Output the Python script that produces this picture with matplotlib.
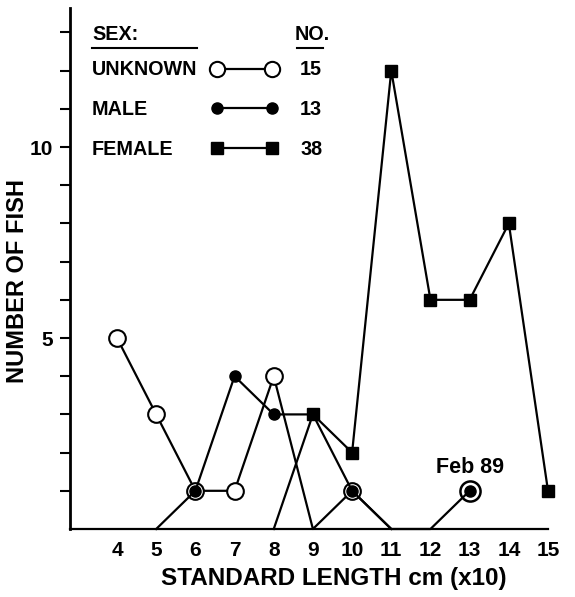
import matplotlib
matplotlib.use("Agg")
import matplotlib.pyplot as plt
from matplotlib.lines import Line2D

plt.rcParams['font.family'] = ['Liberation Sans', 'DejaVu Sans']
plt.rcParams['font.weight'] = 'bold'

# ---- data ----
x_unknown = [4, 5, 6, 7, 8, 9, 10, 11]
n_unknown = [5, 3, 1, 1, 4, 0, 1, 0]
x_male = [5, 6, 7, 8, 9, 10, 11, 12, 13]
n_male = [0, 1, 4, 3, 3, 1, 0, 0, 1]
x_female = [8, 9, 10, 11, 12, 13, 14, 15]
n_female = [0, 3, 2, 12, 6, 6, 8, 1]
x_ticks = [4, 5, 6, 7, 8, 9, 10, 11, 12, 13, 14, 15]
y_ticks = list(range(1, 14))
y_labelled = [5, 10]
legend_names = ["UNKNOWN", "MALE", "FEMALE"]
legend_totals = ["15", "13", "38"]
note_x = 13
note_text = "Feb 89"

W, H = 575, 597
fig = plt.figure(figsize=(W / 100, H / 100), dpi=100)


def fx(px):
    return px / W


def fy(py):
    return 1 - py / H


ax = fig.add_axes([fx(70), fy(529), (548 - 70) / W, (529 - 8) / H])
ax.set_xlim(2.8, 15)
ax.set_ylim(0, 13.64)

lw = 1.6


def nz(vals):
    return [i for i, v in enumerate(vals) if v > 0]


ax.plot(x_female, n_female, color='black', lw=lw, marker='s', ms=8.5,
        markevery=nz(n_female), clip_on=False, zorder=3)
ax.plot(x_unknown, n_unknown, color='black', lw=lw, marker='o', ms=12,
        mfc='white', mec='black', mew=1.5, markevery=nz(n_unknown),
        clip_on=False, zorder=4)
ax.plot(x_male, n_male, color='black', lw=lw, marker='o', ms=8,
        markevery=nz(n_male), clip_on=False, zorder=5)

# highlighted point
ny = n_male[x_male.index(note_x)]
ax.plot([note_x], [ny], marker='o', ms=14.5, mfc='none', mec='black', mew=1.8,
        ls='none', zorder=6, clip_on=False)
ax.annotate(note_text, xy=(note_x, ny), xytext=(0, 12.5), textcoords='offset points',
            ha='center', va='baseline', fontsize=15.5, fontweight='bold')

# axes styling
for s in ['top', 'right']:
    ax.spines[s].set_visible(False)
ax.spines['left'].set_linewidth(2.0)
ax.spines['bottom'].set_linewidth(1.6)

ax.set_yticks(y_ticks)
ax.set_yticklabels([str(t) if t in y_labelled else '' for t in y_ticks])
ax.set_xticks(x_ticks)
ax.set_xticklabels([str(t) for t in x_ticks])
ax.tick_params(axis='y', direction='out', length=7, width=1.5, pad=5,
               labelsize=15)
ax.tick_params(axis='x', length=0, pad=9, labelsize=15)
for lab in ax.get_xticklabels() + ax.get_yticklabels():
    lab.set_fontweight('bold')

fig.text(fx(334), fy(578), "STANDARD LENGTH cm (x10)", ha='center', va='center',
         fontsize=17.5, fontweight='bold')
fig.text(fx(18), fy(281), "NUMBER OF FISH", ha='center', va='center',
         rotation=90, fontsize=17, fontweight='bold')

# ---- custom legend ----
fs = 14.2
fig.text(fx(92), fy(40), "SEX:", ha='left', va='baseline', fontsize=fs,
         fontweight='bold')
fig.text(fx(295), fy(40), "NO.", ha='left', va='baseline', fontsize=fs,
         fontweight='bold')
fig.add_artist(Line2D([fx(92), fx(197)], [fy(48), fy(48)], color='black', lw=1.5))
fig.add_artist(Line2D([fx(297), fx(323)], [fy(48), fy(48)], color='black', lw=1.5))

row_base = [75, 115, 155]
row_mid = [69, 108, 148]
styles = [dict(marker='o', ms=11, mfc='white', mec='black', mew=1.5),
          dict(marker='o', ms=8, mfc='black', mec='black'),
          dict(marker='s', ms=8, mfc='black', mec='black')]
for name, tot, yb, ym, st in zip(legend_names, legend_totals, row_base, row_mid, styles):
    fig.text(fx(92), fy(yb), name, ha='left', va='baseline', fontsize=fs,
             fontweight='bold')
    fig.text(fx(300), fy(yb), tot, ha='left', va='baseline', fontsize=fs,
             fontweight='bold')
    fig.add_artist(Line2D([fx(217), fx(272)], [fy(ym), fy(ym)], color='black',
                          lw=lw, **st))

fig.savefig("out.png", dpi=100)
